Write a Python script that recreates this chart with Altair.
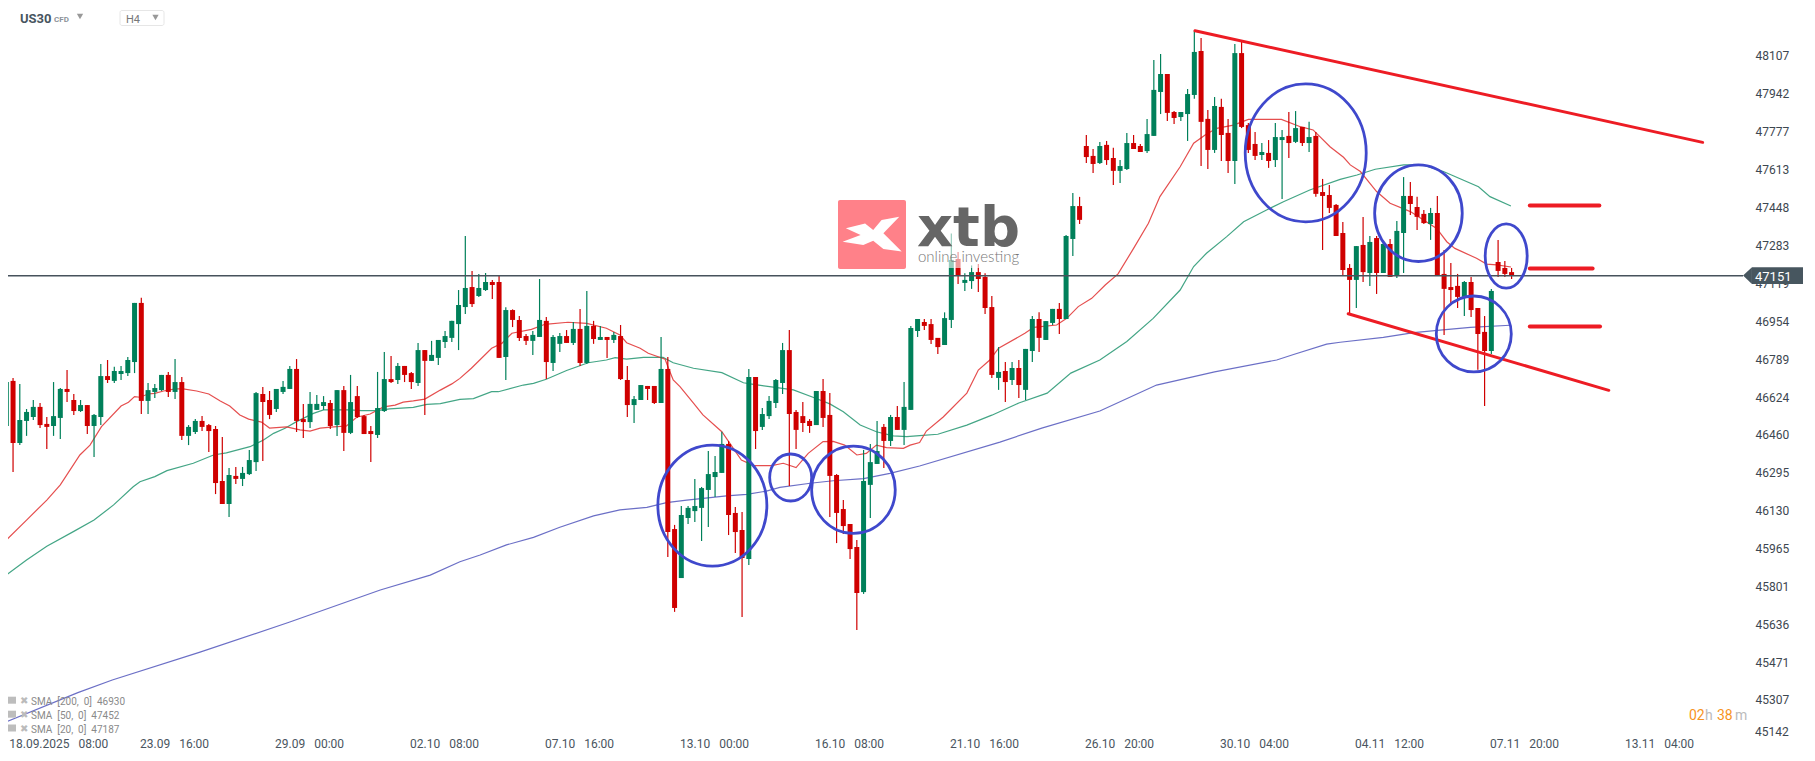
import altair as alt
import pandas as pd

open_ = [
46498,46694,46424,46520,46537,46581,46507,46498,46533,46659,46611,46563,46589,46498,46537,46715,46694,46724,46728,46776,
47033,46607,46646,46654,46720,46646,46689,46455,46472,46520,46502,46485,46259,46159,46281,46268,46289,46341,46637,46611,
46572,46646,46659,46746,46528,46515,46568,46585,46598,46502,46654,46468,46628,46541,46476,46459,46563,46702,46698,46759,
46728,46685,46828,46781,46794,46863,46881,46941,47015,47102,47063,47089,47124,47124,46798,47002,46959,46889,46868,46885,
46955,46772,46855,46889,46859,46920,46772,46933,46872,46885,46872,46889,46698,46589,46611,46672,46672,46598,46746,46050,
45837,46098,46128,46142,46220,46276,46294,46420,46120,46046,45920,46711,46494,46541,46598,46685,46828,46559,46541,46520,
46502,46650,46546,46285,46137,46072,45972,45776,46242,46333,46494,46433,46537,46481,46568,46911,46950,46941,46881,46850,
46959,47224,47120,47128,47167,47146,47015,46707,46737,46698,46750,46655,46824,46963,46872,46946,47007,46963,47311,47454,
47715,47672,47641,47720,47663,47607,47615,47728,47715,47693,47759,47950,48028,47863,47841,47854,47937,48128,47833,47698,
47885,47772,47650,48119,47806,47724,47676,47685,47654,47741,47759,47733,47798,47728,47759,47515,47502,47459,47337,47185,
47133,47285,47163,47315,47163,47289,47154,47337,47498,47450,47420,47376,47424,47159,47102,47107,47059,47124,47011,46907,
46824,47211,47185,47167]
high = [
46724,46707,46681,46572,46611,46598,46537,46689,46663,46741,46637,46611,46589,46550,46768,46785,46755,46759,46798,47033,
47055,46685,46681,46720,46733,46789,46711,46502,46528,46541,46507,46498,46450,46315,46320,46320,46394,46646,46668,46650,
46659,46694,46759,46789,46594,46646,46633,46628,46611,46654,46672,46720,46672,46546,46498,46733,46820,46802,46772,46759,
46733,46859,46828,46868,46872,46911,46955,47089,47324,47172,47159,47163,47133,47150,47014,47005,46976,46898,46911,47137,
46972,46894,46902,46915,46950,47007,47085,46955,46933,46885,46907,46937,46759,46628,46676,46672,46672,46885,46798,46068,
46150,46150,46268,46233,46389,46368,46473,46433,46146,46124,46746,46711,46576,46628,46702,46859,46915,46568,46602,46528,
46650,46702,46641,46289,46176,46072,46002,46394,46420,46520,46507,46546,46585,46689,46933,46963,46963,46963,46881,46992,
47335,47254,47162,47196,47202,47162,47063,46841,46776,46776,46785,46833,46976,46992,46954,47007,47033,47328,47511,47494,
47763,47702,47733,47737,47707,47654,47772,47763,47724,47833,48089,48115,48028,47867,47863,47963,48217,48185,47872,47928,
47920,47833,48159,48176,47815,47776,47728,47741,47815,47785,47863,47867,47798,47820,47776,47572,47546,47463,47385,47202,
47280,47407,47324,47324,47298,47311,47389,47580,47559,47494,47437,47446,47498,47263,47207,47159,47128,47146,47011,46976,
47094,47307,47215,47185]
low = [
46455,46298,46415,46455,46524,46489,46398,46455,46441,46602,46546,46559,46463,46363,46502,46685,46685,46698,46715,46728,
46550,46550,46620,46650,46624,46615,46437,46415,46463,46476,46385,46202,46159,46102,46246,46237,46285,46302,46346,46528,
46559,46637,46659,46472,46446,46489,46568,46568,46485,46455,46389,46463,46533,46463,46341,46446,46559,46685,46681,46689,
46659,46672,46546,46781,46763,46837,46863,46828,46985,47015,47059,47085,47050,46794,46698,46928,46868,46850,46807,46885,
46702,46737,46820,46859,46850,46759,46768,46855,46872,46794,46859,46698,46537,46511,46611,46611,46594,46598,45929,45690,
45837,46072,46081,45998,46059,46189,46294,46024,45946,45668,45894,46398,46481,46528,46576,46637,46237,46398,46472,46468,
46502,46494,46102,45989,46029,45920,45611,45768,46098,46333,46315,46411,46481,46415,46568,46885,46915,46854,46811,46850,
46924,47115,47085,47094,47080,46985,46707,46655,46602,46676,46620,46611,46776,46820,46872,46937,46898,46963,47237,47376,
47641,47598,47637,47633,47546,47554,47611,47702,47689,47685,47759,47854,47824,47811,47824,47737,47920,47628,47615,47685,
47650,47598,47550,47793,47685,47654,47654,47620,47624,47485,47663,47728,47715,47689,47494,47263,47424,47324,47154,46985,
47011,47124,47107,47072,47163,47146,47141,47163,47415,47350,47376,47307,47154,46894,47024,47011,46976,46972,46742,46585,
46811,47146,47146,47137]
close = [
46689,46424,46524,46559,46581,46502,46494,46541,46659,46646,46563,46589,46498,46546,46715,46698,46737,46737,46785,47033,
46607,46654,46663,46720,46646,46689,46455,46494,46520,46494,46476,46250,46159,46285,46268,46294,46350,46641,46602,46546,
46659,46668,46746,46520,46515,46594,46594,46602,46498,46654,46468,46602,46537,46463,46463,46576,46702,46689,46759,46720,
46689,46828,46781,46807,46872,46889,46955,47024,47098,47028,47098,47124,47111,46794,47002,46959,46881,46868,46894,46959,
46776,46885,46889,46859,46920,46772,46933,46876,46885,46872,46894,46702,46589,46615,46676,46659,46598,46746,46037,45707,
46111,46142,46150,46228,46289,46298,46420,46111,46037,45924,46711,46476,46550,46607,46698,46828,46550,46481,46511,46498,
46650,46533,46281,46120,46063,45963,45772,46259,46341,46389,46433,46537,46481,46581,46924,46963,46933,46872,46841,46967,
47220,47154,47133,47167,47137,47011,46720,46733,46689,46750,46676,46833,46963,46881,46954,47007,46963,47324,47454,47394,
47667,47637,47715,47654,47607,47628,47728,47702,47689,47767,47959,48028,47859,47837,47863,47941,48124,47820,47698,47889,
47763,47650,48119,47798,47698,47672,47689,47650,47754,47754,47728,47793,47728,47754,47507,47498,47446,47324,47176,47133,
47280,47167,47298,47163,47289,47146,47346,47498,47463,47407,47380,47424,47154,47094,47089,47059,47124,47002,46898,46824,
47085,47172,47159,47154]

sma20_x = [0,3,6,8,10.9,12.4,14.1,17,18.1,19,19.8,21,22,23.3,25,26.2,28.2,30,31.7,33.1,34.6,35.9,37.8,39,41.5,43.5,45,46.5,48.5,50.4,51.9,53.9,55.9,57.6,58.8,60.3,62,64.3,66,
67.2,68.9,71.9,73.4,74.9,77.8,79.8,83.2,86,88.9,90.9,91.9,93.9,95.1,97.6,98.1,98.8,99.8,101.8,103.2,106,107.7,108.9,110.7,113.4,115.1,117,118.8,121,122.5,124.2,126,127.4,128.9,130.4,132.9,133.9,135.3,
136.3,138.8,142.3,144,145.7,147,150.9,152.2,155.6,157.1,158.8,160.8,162.8,164.7,167,169.2,170.9,173.9,175.9,177.6,179.3,181.8,184,188.9,191.7,193.6,196.1,198.1,199.1,200.6,203,205,208,211.9,213.4,214.6,217.8,219.3,220.8,222.9]
sma20_y = [46002,46089,46176,46242,46372,46415,46495,46585,46601,46626,46623,46637,46640,46650,46659,46659,46650,46637,46607,46585,46546,46528,46515,46489,46494,46481,46476,46489,46494,46498,46536,46550,46581,46589,46602,46607,46615,46654,46681,
46705,46749,46836,46857,46901,46918,46940,46949,46944,46923,46894,46860,46836,46814,46788,46749,46698,46669,46597,46546,46473,46401,46350,46326,46326,46336,46317,46379,46430,46431,46415,46372,46379,46415,46404,46401,46415,46426,
46476,46537,46641,46741,46785,46836,46901,46927,46937,46966,47017,47053,47111,47159,47270,47379,47495,47625,47727,47763,47792,47806,47831,47831,47799,47785,47712,47666,47633,47604,47517,47466,47430,47357,47299,47270,47227,47202,47198,47189]

sma50_x = [0,3,6,10,13,15.9,18.8,19.8,22,23.8,27.7,30.7,32.6,36.1,38.1,39.6,41.3,43,45.5,47,50.9,52.6,54.9,56.8,60.3,62.3,64.3,67.2,69.2,71.9,72.9,76.6,78.1,80,83,86.2,88.9,90.2,91.9,94.4,97.3,98.8,101.8,106,109.2,110.7,113.9,116.6,119.5,122,124,126.5,128.9,131.4,133.4,135.3,
138,142.3,146,150,154.2,157.7,162,166,169.9,173.9,175.9,177.8,180.8,183.3,186.7,189.2,193.1,197.6,200.1,202.8,207,209.9,212.9,218.1,219.8,222.9]
sma50_y = [45850,45915,45975,46040,46089,46155,46234,46256,46278,46304,46336,46372,46381,46408,46437,46466,46488,46517,46553,46568,46568,46565,46565,46572,46579,46592,46595,46614,46617,46647,46647,46676,46683,46701,46739,46773,46785,46795,46789,46796,46796,46773,46749,46730,46686,46679,46666,46655,46623,46594,46560,46502,46473,46455,46452,46456,
46462,46502,46545,46598,46641,46728,46785,46865,46966,47089,47191,47249,47321,47386,47437,47473,47524,47570,47589,47614,47633,47633,47604,47538,47495,47454]

sma200_x = [0,10.6,15.7,28.7,42,55.4,62.8,67.2,70.2,74.1,78.1,82,87,90.9,94.9,97.8,100.8,106.7,109.7,112.6,114.6,119.1,122.5,127,130.9,135.3,147.2,153.4,162,170.4,179,188.2,190.7,195.6,197.6,204,208.5,212.4,216.9,222.8]
sma200_y = [45212,45339,45394,45515,45646,45785,45850,45908,45937,45981,46014,46058,46107,46133,46144,46165,46176,46194,46201,46215,46231,46249,46260,46269,46292,46324,46428,46489,46563,46676,46733,46785,46809,46854,46862,46883,46904,46915,46927,46936]

trend_x = [[176.1,251.3],[198.8,237.4],[225.7,236.0],[225.7,235.0],[225.7,236.1]]
trend_y = [[48216,47731],[46986,46653],[47457,47457],[47183,47183],[46931,46931]]
trend_w = [3,3,4,4,4]

ell_x = [104.6,116.2,125.5,192.5,209.2,222.2,217.4]
ell_y = [46152,46274,46221,47685,47423,47237,46898]
ell_rx = [54.5,21,41.8,60.5,43.8,21,37.5]
ell_ry = [60.5,23.5,43.7,69,48.3,32.2,38]

y_ticks = [48107,47942,47777,47613,47448,47283,47119,46954,46789,46624,46460,46295,46130,45965,45801,45636,45471,45307]
x_ticks = [7.7,24.85,44.85,64.85,84.85,104.85,124.85,144.85,164.85,184.85,204.85,224.85,244.85]
x_labels = ["18.09.2025\u00a0\u00a0\u00a008:00","23.09\u00a0\u00a0\u00a016:00","29.09\u00a0\u00a0\u00a000:00","02.10\u00a0\u00a0\u00a008:00","07.10\u00a0\u00a0\u00a016:00","13.10\u00a0\u00a0\u00a000:00","16.10\u00a0\u00a0\u00a008:00","21.10\u00a0\u00a0\u00a016:00","26.10\u00a0\u00a0\u00a020:00","30.10\u00a0\u00a0\u00a004:00","04.11\u00a0\u00a0\u00a012:00","07.11\u00a0\u00a0\u00a020:00","13.11\u00a0\u00a0\u00a004:00"]
last_price = 47151
legend_rows = ["SMA\u00a0\u00a0[200,\u00a0\u00a00]\u00a0\u00a046930","SMA\u00a0\u00a0[50,\u00a0\u00a00]\u00a0\u00a047452","SMA\u00a0\u00a0[20,\u00a0\u00a00]\u00a0\u00a047187"]

RED = "#CF0000"
GREEN = "#00805A"
FONT = "Roboto"

xscale = alt.Scale(domain=[0.252, 266.17], nice=False, zero=False, padding=0)
yscale = alt.Scale(domain=[45089.55, 48315], nice=False, zero=False)
label_map = "{" + ",".join(f"'{t}':'{l}'" for t, l in zip(x_ticks, x_labels)) + "}"
xaxis = alt.Axis(values=x_ticks, labelExpr=label_map + "[datum.value]", title=None, domain=False, ticks=False, grid=False,
                 orient="bottom", offset=-12, labelPadding=0, labelFont=FONT, labelFontSize=12, labelColor="#4a5560",
                 labelOverlap=False, labelFlush=False, labelBound=False, labelAngle=0)
yaxis = alt.Axis(values=y_ticks, format="d", title=None, domain=False, ticks=False, grid=False, orient="right",
                 offset=-48, labelPadding=0, labelFont=FONT, labelFontSize=12, labelColor="#3d4750",
                 labelOverlap=False, labelFlush=False, labelBound=False)

def X(f="i"):
    return alt.X(f"{f}:Q", scale=xscale, axis=xaxis)
def Y(f="p"):
    return alt.Y(f"{f}:Q", scale=yscale, axis=yaxis)

candles = pd.DataFrame({"i": range(len(open_)), "o": open_, "h": high, "l": low, "c": close})
candles["color"] = [GREEN if c >= o else RED for o, c in zip(open_, close)]
color = alt.Color("color:N", scale=None, legend=None)

layers = []
# moving averages
for xs, ys, col, sw in [(sma200_x, sma200_y, "#5B5FC0", 1.2), (sma50_x, sma50_y, "#2F9B78", 1.2), (sma20_x, sma20_y, "#E23B3B", 1.2)]:
    layers.append(alt.Chart(pd.DataFrame({"i": xs, "p": ys})).mark_line(color=col, strokeWidth=sw, opacity=0.9).encode(x=X(), y=Y()))

# candles
layers.append(alt.Chart(candles).mark_rule(strokeWidth=1.2).encode(x=X(), y=Y("h"), y2="l:Q", color=color))
layers.append(alt.Chart(candles).mark_bar(size=5).encode(x=X(), y=Y("o"), y2="c:Q", color=color))

# last price line
layers.append(alt.Chart(pd.DataFrame({"p": [last_price]})).mark_rule(color="#47525C", strokeWidth=1.3)
              .encode(x=alt.value(0), x2=alt.value(1735), y=Y()))

# logo over the chart
layers.append(alt.Chart().mark_rect(color="white", opacity=0.6).encode(x=alt.value(830), x2=alt.value(1012), y=alt.value(187), y2=alt.value(260)))
layers.append(alt.Chart().mark_rect(color="#FF8189", cornerRadius=2).encode(x=alt.value(830), x2=alt.value(898), y=alt.value(192), y2=alt.value(261)))
logo_path = "M-0.87,-0.21L-0.23,-0.37L0.04,-0.15L0.32,-0.48L0.91,-0.59L0.38,-0.04L0.99,0.57L0.38,0.48L0.04,0.21L-0.29,0.35L-0.98,0.24L-0.38,0.02Z"
layers.append(alt.Chart().mark_point(shape=logo_path, filled=True, fill="white", strokeWidth=0, size=3600, opacity=1)
              .encode(x=alt.value(864), y=alt.value(226.5)))
layers.append(alt.Chart().mark_text(text="xtb", font="DejaVu Sans", fontWeight="bold", fontSize=56, color="#666666", align="left", baseline="alphabetic")
              .encode(x=alt.value(909), y=alt.value(238)))
layers.append(alt.Chart().mark_text(text="online investing", font="Lato", fontWeight=300, fontSize=15, color="#777777", align="left", baseline="alphabetic")
              .encode(x=alt.value(910), y=alt.value(254)))

# trend lines
for xs, ys, w in zip(trend_x, trend_y, trend_w):
    layers.append(alt.Chart(pd.DataFrame({"i": xs, "p": ys})).mark_line(color="#ED1C24", strokeWidth=w, strokeCap="round").encode(x=X(), y=Y()))

# hand-drawn ellipses
for cx, cy, rx, ry in zip(ell_x, ell_y, ell_rx, ell_ry):
    k = round(ry / rx, 3)
    path = f"M-1,0A1,{k},0,1,1,1,0A1,{k},0,1,1,-1,0Z"
    layers.append(alt.Chart(pd.DataFrame({"i": [cx], "p": [cy]})).mark_point(shape=path, filled=False, stroke="#3F48CC", strokeWidth=2.8, opacity=1, size=(2 * rx) ** 2)
                  .encode(x=X(), y=Y()))

# price tag
layers.append(alt.Chart().mark_rect(color="#47565F").encode(x=alt.value(1744), x2=alt.value(1795), y=alt.value(259.3), y2=alt.value(276)))
layers.append(alt.Chart().mark_point(shape="M-0.53,0L0.53,-1L0.53,1Z", filled=True, fill="#47565F", strokeWidth=0, size=280, opacity=1)
              .encode(x=alt.value(1739.5), y=alt.value(267.6)))
layers.append(alt.Chart().mark_text(text=str(last_price), font=FONT, fontSize=13, color="white", align="left", baseline="middle")
              .encode(x=alt.value(1747), y=alt.value(269)))
layers.append(alt.Chart().mark_text(text="45142", font=FONT, fontSize=12, color="#3d4750", align="left", baseline="middle")
              .encode(x=alt.value(1747), y=alt.value(723.7)))

# header
def text(t, x, y, size, col, weight="normal", font=FONT):
    return alt.Chart().mark_text(text=t, font=font, fontSize=size, color=col, fontWeight=weight, align="left", baseline="middle").encode(x=alt.value(x), y=alt.value(y))
def tri(x, y, size=40, col="#999999"):
    return alt.Chart().mark_point(shape="triangle-down", filled=True, fill=col, strokeWidth=0, size=size, opacity=1).encode(x=alt.value(x), y=alt.value(y))

layers += [text("US30", 12, 10.5, 13, "#47555F", "bold"), text("CFD", 46, 11.5, 8, "#8d9399", "bold"), tri(72, 8.5),
           alt.Chart().mark_rect(fill="white", stroke="#E6E6E6", strokeWidth=1, cornerRadius=2).encode(x=alt.value(112), x2=alt.value(156), y=alt.value(2.5), y2=alt.value(17.5)),
           text("H4", 118, 11.5, 11, "#777777"), tri(147.5, 9.5)]

# legend rows
for row, y in zip(legend_rows, [693.7, 707.7, 721.5]):
    layers.append(alt.Chart().mark_rect(color="#BDBDBD").encode(x=alt.value(0), x2=alt.value(8), y=alt.value(y - 5), y2=alt.value(y + 2)))
    layers.append(text("\u2716", 12, y - 1, 10, "#BBBBBB", font="DejaVu Sans"))
    layers.append(text(row, 23, y, 10, "#8a8a8a"))

# countdown
layers += [text("02", 1681, 708, 14, "#F7941D"), text("h", 1697, 708, 14, "#BBBBBB"), text("38", 1709, 708, 14, "#F7941D"), text("m", 1727, 708, 14, "#BBBBBB")]

chart = alt.layer(*layers).properties(width=1795, height=742, padding=0, autosize=alt.AutoSizeParams(type="none"), background="white").configure_view(stroke=None)
chart.save("out.html", embed_options={"renderer": "svg", "actions": False})
